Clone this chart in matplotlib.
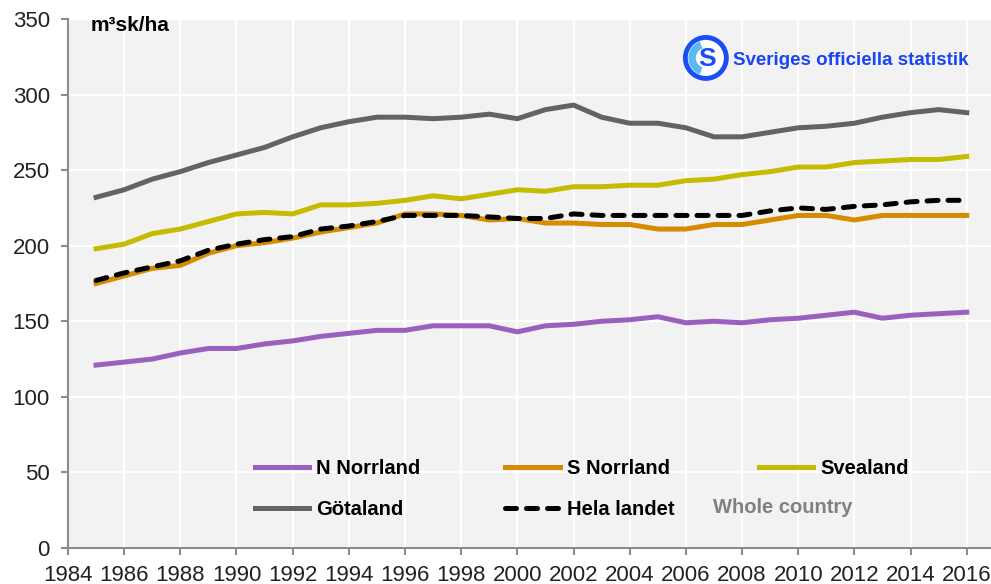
import numpy as np
import matplotlib
matplotlib.use('Agg')
import matplotlib.pyplot as plt
from matplotlib.patches import Circle, Wedge

plt.rcParams['font.family'] = ['Liberation Sans', 'DejaVu Sans']

# årsvärden, virkesförråd per hektar (m³sk/ha)
years = list(range(1985, 2017))
n_norrland = [121, 123, 125, 129, 132, 132, 135, 137, 140, 142, 144, 144, 147, 147, 147, 143,
              147, 148, 150, 151, 153, 149, 150, 149, 151, 152, 154, 156, 152, 154, 155, 156]
s_norrland = [175, 180, 185, 187, 195, 200, 202, 205, 209, 212, 215, 221, 221, 220, 217, 218,
              215, 215, 214, 214, 211, 211, 214, 214, 217, 220, 220, 217, 220, 220, 220, 220]
svealand = [198, 201, 208, 211, 216, 221, 222, 221, 227, 227, 228, 230, 233, 231, 234, 237,
            236, 239, 239, 240, 240, 243, 244, 247, 249, 252, 252, 255, 256, 257, 257, 259]
gotaland = [232, 237, 244, 249, 255, 260, 265, 272, 278, 282, 285, 285, 284, 285, 287, 284,
            290, 293, 285, 281, 281, 278, 272, 272, 275, 278, 279, 281, 285, 288, 290, 288]
hela_landet = [177, 182, 186, 190, 197, 201, 204, 206, 211, 213, 216, 220, 220, 220, 219, 218,
               218, 221, 220, 220, 220, 220, 220, 220, 223, 225, 224, 226, 227, 229, 230, 230]

fig = plt.figure(figsize=(9.91, 5.84), dpi=100)
ax = fig.add_axes([0.0686, 0.0616, 0.931, 0.906])
ax.set_facecolor('#F2F2F2')

lw = 3.6
l_n, = ax.plot(years, n_norrland, color='#9B5FC0', lw=lw, label='N Norrland')
l_s, = ax.plot(years, s_norrland, color='#D48C00', lw=lw, label='S Norrland')
l_sv, = ax.plot(years, svealand, color='#C3BC00', lw=lw, label='Svealand')
l_g, = ax.plot(years, gotaland, color='#636366', lw=lw, label='Götaland')
l_h, = ax.plot(years, hela_landet, color='black', lw=lw, dashes=(2.2, 2.0),
               dash_capstyle='round', label='Hela landet', zorder=5)

ax.set_xlim(1984, 2016.85)
ax.set_ylim(0, 350)
ax.set_xticks(range(1984, 2017, 2))
ax.set_yticks(range(0, 351, 50))
ax.grid(True, color='white', lw=1.6)
ax.set_axisbelow(True)

for side in ['top', 'right']:
    ax.spines[side].set_visible(False)
for side in ['left', 'bottom']:
    ax.spines[side].set_color('#8C8C8C')
    ax.spines[side].set_linewidth(1.5)
ax.tick_params(axis='both', colors='#8C8C8C', width=1.5, length=5, labelsize=16,
               labelcolor='#222222')
ax.tick_params(axis='y', pad=8)
ax.tick_params(axis='x', pad=7)

ax.text(0.024, 0.987, 'm³sk/ha', transform=ax.transAxes, fontsize=15,
        fontweight='bold', va='center', ha='left')

# förklaring i två rader
leg = ax.legend([l_n, l_g, l_s, l_h, l_sv],
                ['N Norrland', 'Götaland', 'S Norrland', 'Hela landet', 'Svealand'],
                ncol=3, frameon=False, loc='lower left', bbox_to_anchor=(0.183, 0.021),
                handlelength=2.7, handletextpad=0.35, columnspacing=4.2, labelspacing=1.1,
                prop={'weight': 'bold', 'size': 14.5})
ax.text(0.775, 0.0775, 'Whole country', transform=ax.transAxes, fontsize=14.5,
        fontweight='bold', color='#808080', ha='center', va='center')

# SOS-logotyp
logo_ax = fig.add_axes([0.687, 0.858, 0.0505, 0.0856])
logo_ax.set_xlim(-1, 1)
logo_ax.set_ylim(-1, 1)
logo_ax.set_aspect('equal')
logo_ax.axis('off')
logo_ax.add_patch(Circle((0, 0), 0.82, facecolor='white', edgecolor='#1B4DF5', lw=3.5))
logo_ax.add_patch(Wedge((0, 0), 0.7, 110, 250, width=0.3, facecolor='#5BB8F5'))
logo_ax.text(0.04, -0.05, 'S', fontsize=19, fontweight='bold', color='#1B4DF5',
             ha='center', va='center')
fig.text(0.74, 0.897, 'Sveriges officiella statistik', fontsize=13.5, fontweight='bold',
         color='#1B44F5', ha='left', va='center',
         family=['Liberation Sans Narrow', 'Liberation Sans'])

fig.savefig('out.png', dpi=100)
